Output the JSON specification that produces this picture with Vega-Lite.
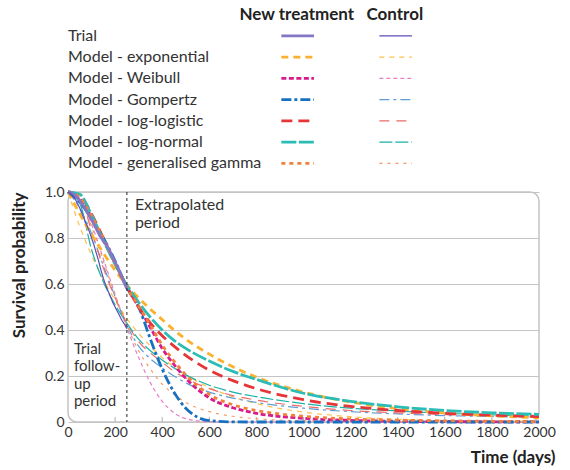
{
"$schema": "https://vega.github.io/schema/vega-lite/v6.json",
"padding": {"left": 9, "top": 4, "right": 5, "bottom": 0},
"background": "white",
"spacing": 10,
"config": {"font": "Lato", "view": {"stroke": null}},
"datasets": {
"legend": [
{"model":"Trial","group":"New treatment"},{"model":"Trial","group":"Control"},
{"model":"Model - exponential","group":"New treatment"},{"model":"Model - exponential","group":"Control"},
{"model":"Model - Weibull","group":"New treatment"},{"model":"Model - Weibull","group":"Control"},
{"model":"Model - Gompertz","group":"New treatment"},{"model":"Model - Gompertz","group":"Control"},
{"model":"Model - log-logistic","group":"New treatment"},{"model":"Model - log-logistic","group":"Control"},
{"model":"Model - log-normal","group":"New treatment"},{"model":"Model - log-normal","group":"Control"},
{"model":"Model - generalised gamma","group":"New treatment"},{"model":"Model - generalised gamma","group":"Control"}
],
"ticks": [{"t":200},{"t":400},{"t":600},{"t":800},{"t":1000},{"t":1200},{"t":1400},{"t":1600},{"t":1800}],
"curves": [
{"model":"Trial","group":"New treatment","t":0,"s":1},{"model":"Trial","group":"New treatment","t":8,"s":1},{"model":"Trial","group":"New treatment","t":15,"s":0.995},{"model":"Trial","group":"New treatment","t":25,"s":0.99},{"model":"Trial","group":"New treatment","t":35,"s":0.98},{"model":"Trial","group":"New treatment","t":45,"s":0.97},{"model":"Trial","group":"New treatment","t":55,"s":0.955},{"model":"Trial","group":"New treatment","t":65,"s":0.94},{"model":"Trial","group":"New treatment","t":75,"s":0.925},{"model":"Trial","group":"New treatment","t":85,"s":0.905},{"model":"Trial","group":"New treatment","t":95,"s":0.89},{"model":"Trial","group":"New treatment","t":105,"s":0.87},{"model":"Trial","group":"New treatment","t":115,"s":0.85},{"model":"Trial","group":"New treatment","t":125,"s":0.83},{"model":"Trial","group":"New treatment","t":135,"s":0.81},{"model":"Trial","group":"New treatment","t":145,"s":0.795},{"model":"Trial","group":"New treatment","t":155,"s":0.78},{"model":"Trial","group":"New treatment","t":165,"s":0.765},{"model":"Trial","group":"New treatment","t":175,"s":0.75},{"model":"Trial","group":"New treatment","t":185,"s":0.725},{"model":"Trial","group":"New treatment","t":195,"s":0.705},{"model":"Trial","group":"New treatment","t":205,"s":0.685},{"model":"Trial","group":"New treatment","t":215,"s":0.665},{"model":"Trial","group":"New treatment","t":225,"s":0.64},{"model":"Trial","group":"New treatment","t":235,"s":0.615},{"model":"Trial","group":"New treatment","t":243,"s":0.595},{"model":"Trial","group":"New treatment","t":250,"s":0.58},
{"model":"Trial","group":"Control","t":0,"s":1},{"model":"Trial","group":"Control","t":10,"s":0.995},{"model":"Trial","group":"Control","t":20,"s":0.985},{"model":"Trial","group":"Control","t":30,"s":0.97},{"model":"Trial","group":"Control","t":40,"s":0.95},{"model":"Trial","group":"Control","t":50,"s":0.93},{"model":"Trial","group":"Control","t":60,"s":0.905},{"model":"Trial","group":"Control","t":70,"s":0.88},{"model":"Trial","group":"Control","t":80,"s":0.855},{"model":"Trial","group":"Control","t":90,"s":0.83},{"model":"Trial","group":"Control","t":100,"s":0.8},{"model":"Trial","group":"Control","t":110,"s":0.77},{"model":"Trial","group":"Control","t":120,"s":0.735},{"model":"Trial","group":"Control","t":130,"s":0.7},{"model":"Trial","group":"Control","t":140,"s":0.66},{"model":"Trial","group":"Control","t":150,"s":0.625},{"model":"Trial","group":"Control","t":160,"s":0.595},{"model":"Trial","group":"Control","t":170,"s":0.57},{"model":"Trial","group":"Control","t":180,"s":0.545},{"model":"Trial","group":"Control","t":190,"s":0.52},{"model":"Trial","group":"Control","t":200,"s":0.5},{"model":"Trial","group":"Control","t":210,"s":0.48},{"model":"Trial","group":"Control","t":220,"s":0.46},{"model":"Trial","group":"Control","t":230,"s":0.44},{"model":"Trial","group":"Control","t":240,"s":0.425},{"model":"Trial","group":"Control","t":250,"s":0.405},

{"model":"Model - exponential","group":"New treatment","t":0,"s":1},{"model":"Model - exponential","group":"New treatment","t":50,"s":0.905},{"model":"Model - exponential","group":"New treatment","t":100,"s":0.815},{"model":"Model - exponential","group":"New treatment","t":150,"s":0.735},{"model":"Model - exponential","group":"New treatment","t":200,"s":0.66},{"model":"Model - exponential","group":"New treatment","t":250,"s":0.595},{"model":"Model - exponential","group":"New treatment","t":300,"s":0.54},{"model":"Model - exponential","group":"New treatment","t":350,"s":0.49},{"model":"Model - exponential","group":"New treatment","t":400,"s":0.445},{"model":"Model - exponential","group":"New treatment","t":450,"s":0.4},{"model":"Model - exponential","group":"New treatment","t":500,"s":0.36},{"model":"Model - exponential","group":"New treatment","t":600,"s":0.295},{"model":"Model - exponential","group":"New treatment","t":700,"s":0.24},{"model":"Model - exponential","group":"New treatment","t":800,"s":0.195},{"model":"Model - exponential","group":"New treatment","t":1000,"s":0.13},{"model":"Model - exponential","group":"New treatment","t":1200,"s":0.087},{"model":"Model - exponential","group":"New treatment","t":1400,"s":0.058},{"model":"Model - exponential","group":"New treatment","t":1600,"s":0.039},{"model":"Model - exponential","group":"New treatment","t":1800,"s":0.027},{"model":"Model - exponential","group":"New treatment","t":2000,"s":0.018},

{"model":"Model - Weibull","group":"New treatment","t":0,"s":1},{"model":"Model - Weibull","group":"New treatment","t":50,"s":0.97},{"model":"Model - Weibull","group":"New treatment","t":100,"s":0.89},{"model":"Model - Weibull","group":"New treatment","t":150,"s":0.79},{"model":"Model - Weibull","group":"New treatment","t":200,"s":0.69},{"model":"Model - Weibull","group":"New treatment","t":250,"s":0.585},{"model":"Model - Weibull","group":"New treatment","t":300,"s":0.5},{"model":"Model - Weibull","group":"New treatment","t":350,"s":0.41},{"model":"Model - Weibull","group":"New treatment","t":400,"s":0.32},{"model":"Model - Weibull","group":"New treatment","t":450,"s":0.25},{"model":"Model - Weibull","group":"New treatment","t":500,"s":0.19},{"model":"Model - Weibull","group":"New treatment","t":600,"s":0.105},{"model":"Model - Weibull","group":"New treatment","t":700,"s":0.062},{"model":"Model - Weibull","group":"New treatment","t":800,"s":0.038},{"model":"Model - Weibull","group":"New treatment","t":1000,"s":0.016},{"model":"Model - Weibull","group":"New treatment","t":1200,"s":0.007},{"model":"Model - Weibull","group":"New treatment","t":1400,"s":0.003},{"model":"Model - Weibull","group":"New treatment","t":1600,"s":0.0015},{"model":"Model - Weibull","group":"New treatment","t":1800,"s":0.0007},{"model":"Model - Weibull","group":"New treatment","t":2000,"s":0.0003},

{"model":"Model - Gompertz","group":"New treatment","t":0,"s":1},{"model":"Model - Gompertz","group":"New treatment","t":50,"s":0.955},{"model":"Model - Gompertz","group":"New treatment","t":100,"s":0.885},{"model":"Model - Gompertz","group":"New treatment","t":150,"s":0.8},{"model":"Model - Gompertz","group":"New treatment","t":200,"s":0.7},{"model":"Model - Gompertz","group":"New treatment","t":250,"s":0.585},{"model":"Model - Gompertz","group":"New treatment","t":300,"s":0.5},{"model":"Model - Gompertz","group":"New treatment","t":350,"s":0.36},{"model":"Model - Gompertz","group":"New treatment","t":400,"s":0.23},{"model":"Model - Gompertz","group":"New treatment","t":450,"s":0.13},{"model":"Model - Gompertz","group":"New treatment","t":500,"s":0.06},{"model":"Model - Gompertz","group":"New treatment","t":600,"s":0.006},{"model":"Model - Gompertz","group":"New treatment","t":700,"s":0.0005},{"model":"Model - Gompertz","group":"New treatment","t":800,"s":0},{"model":"Model - Gompertz","group":"New treatment","t":1000,"s":0},{"model":"Model - Gompertz","group":"New treatment","t":1200,"s":0},{"model":"Model - Gompertz","group":"New treatment","t":1400,"s":0},{"model":"Model - Gompertz","group":"New treatment","t":1600,"s":0},{"model":"Model - Gompertz","group":"New treatment","t":1800,"s":0},{"model":"Model - Gompertz","group":"New treatment","t":2000,"s":0},

{"model":"Model - log-logistic","group":"New treatment","t":0,"s":1},{"model":"Model - log-logistic","group":"New treatment","t":50,"s":0.985},{"model":"Model - log-logistic","group":"New treatment","t":100,"s":0.905},{"model":"Model - log-logistic","group":"New treatment","t":150,"s":0.8},{"model":"Model - log-logistic","group":"New treatment","t":200,"s":0.69},{"model":"Model - log-logistic","group":"New treatment","t":250,"s":0.59},{"model":"Model - log-logistic","group":"New treatment","t":300,"s":0.5},{"model":"Model - log-logistic","group":"New treatment","t":350,"s":0.43},{"model":"Model - log-logistic","group":"New treatment","t":400,"s":0.375},{"model":"Model - log-logistic","group":"New treatment","t":450,"s":0.33},{"model":"Model - log-logistic","group":"New treatment","t":500,"s":0.29},{"model":"Model - log-logistic","group":"New treatment","t":600,"s":0.225},{"model":"Model - log-logistic","group":"New treatment","t":700,"s":0.18},{"model":"Model - log-logistic","group":"New treatment","t":800,"s":0.145},{"model":"Model - log-logistic","group":"New treatment","t":1000,"s":0.097},{"model":"Model - log-logistic","group":"New treatment","t":1200,"s":0.068},{"model":"Model - log-logistic","group":"New treatment","t":1400,"s":0.05},{"model":"Model - log-logistic","group":"New treatment","t":1600,"s":0.038},{"model":"Model - log-logistic","group":"New treatment","t":1800,"s":0.03},{"model":"Model - log-logistic","group":"New treatment","t":2000,"s":0.024},

{"model":"Model - log-normal","group":"New treatment","t":0,"s":1},{"model":"Model - log-normal","group":"New treatment","t":50,"s":0.99},{"model":"Model - log-normal","group":"New treatment","t":100,"s":0.9},{"model":"Model - log-normal","group":"New treatment","t":150,"s":0.79},{"model":"Model - log-normal","group":"New treatment","t":200,"s":0.685},{"model":"Model - log-normal","group":"New treatment","t":250,"s":0.595},{"model":"Model - log-normal","group":"New treatment","t":300,"s":0.52},{"model":"Model - log-normal","group":"New treatment","t":350,"s":0.455},{"model":"Model - log-normal","group":"New treatment","t":400,"s":0.4},{"model":"Model - log-normal","group":"New treatment","t":450,"s":0.355},{"model":"Model - log-normal","group":"New treatment","t":500,"s":0.32},{"model":"Model - log-normal","group":"New treatment","t":600,"s":0.265},{"model":"Model - log-normal","group":"New treatment","t":700,"s":0.22},{"model":"Model - log-normal","group":"New treatment","t":800,"s":0.185},{"model":"Model - log-normal","group":"New treatment","t":1000,"s":0.125},{"model":"Model - log-normal","group":"New treatment","t":1200,"s":0.09},{"model":"Model - log-normal","group":"New treatment","t":1400,"s":0.066},{"model":"Model - log-normal","group":"New treatment","t":1600,"s":0.05},{"model":"Model - log-normal","group":"New treatment","t":1800,"s":0.04},{"model":"Model - log-normal","group":"New treatment","t":2000,"s":0.033},

{"model":"Model - generalised gamma","group":"New treatment","t":0,"s":1},{"model":"Model - generalised gamma","group":"New treatment","t":50,"s":0.975},{"model":"Model - generalised gamma","group":"New treatment","t":100,"s":0.895},{"model":"Model - generalised gamma","group":"New treatment","t":150,"s":0.795},{"model":"Model - generalised gamma","group":"New treatment","t":200,"s":0.69},{"model":"Model - generalised gamma","group":"New treatment","t":250,"s":0.585},{"model":"Model - generalised gamma","group":"New treatment","t":300,"s":0.505},{"model":"Model - generalised gamma","group":"New treatment","t":350,"s":0.42},{"model":"Model - generalised gamma","group":"New treatment","t":400,"s":0.335},{"model":"Model - generalised gamma","group":"New treatment","t":450,"s":0.265},{"model":"Model - generalised gamma","group":"New treatment","t":500,"s":0.205},{"model":"Model - generalised gamma","group":"New treatment","t":600,"s":0.12},{"model":"Model - generalised gamma","group":"New treatment","t":700,"s":0.075},{"model":"Model - generalised gamma","group":"New treatment","t":800,"s":0.05},{"model":"Model - generalised gamma","group":"New treatment","t":1000,"s":0.025},{"model":"Model - generalised gamma","group":"New treatment","t":1200,"s":0.013},{"model":"Model - generalised gamma","group":"New treatment","t":1400,"s":0.008},{"model":"Model - generalised gamma","group":"New treatment","t":1600,"s":0.005},{"model":"Model - generalised gamma","group":"New treatment","t":1800,"s":0.003},{"model":"Model - generalised gamma","group":"New treatment","t":2000,"s":0.002},

{"model":"Model - exponential","group":"Control","t":0,"s":1},{"model":"Model - exponential","group":"Control","t":50,"s":0.85},{"model":"Model - exponential","group":"Control","t":100,"s":0.725},{"model":"Model - exponential","group":"Control","t":150,"s":0.62},{"model":"Model - exponential","group":"Control","t":200,"s":0.53},{"model":"Model - exponential","group":"Control","t":250,"s":0.45},{"model":"Model - exponential","group":"Control","t":300,"s":0.385},{"model":"Model - exponential","group":"Control","t":350,"s":0.33},{"model":"Model - exponential","group":"Control","t":400,"s":0.28},{"model":"Model - exponential","group":"Control","t":450,"s":0.24},{"model":"Model - exponential","group":"Control","t":500,"s":0.205},{"model":"Model - exponential","group":"Control","t":600,"s":0.15},{"model":"Model - exponential","group":"Control","t":700,"s":0.11},{"model":"Model - exponential","group":"Control","t":800,"s":0.08},{"model":"Model - exponential","group":"Control","t":1000,"s":0.043},{"model":"Model - exponential","group":"Control","t":1200,"s":0.023},{"model":"Model - exponential","group":"Control","t":1400,"s":0.012},{"model":"Model - exponential","group":"Control","t":1600,"s":0.0065},{"model":"Model - exponential","group":"Control","t":1800,"s":0.0035},{"model":"Model - exponential","group":"Control","t":2000,"s":0.002},

{"model":"Model - Weibull","group":"Control","t":0,"s":1},{"model":"Model - Weibull","group":"Control","t":50,"s":0.97},{"model":"Model - Weibull","group":"Control","t":100,"s":0.86},{"model":"Model - Weibull","group":"Control","t":150,"s":0.71},{"model":"Model - Weibull","group":"Control","t":200,"s":0.555},{"model":"Model - Weibull","group":"Control","t":250,"s":0.41},{"model":"Model - Weibull","group":"Control","t":300,"s":0.28},{"model":"Model - Weibull","group":"Control","t":350,"s":0.17},{"model":"Model - Weibull","group":"Control","t":400,"s":0.09},{"model":"Model - Weibull","group":"Control","t":450,"s":0.04},{"model":"Model - Weibull","group":"Control","t":500,"s":0.015},{"model":"Model - Weibull","group":"Control","t":600,"s":0.001},{"model":"Model - Weibull","group":"Control","t":700,"s":0},{"model":"Model - Weibull","group":"Control","t":800,"s":0},{"model":"Model - Weibull","group":"Control","t":1000,"s":0},{"model":"Model - Weibull","group":"Control","t":1200,"s":0},{"model":"Model - Weibull","group":"Control","t":1400,"s":0},{"model":"Model - Weibull","group":"Control","t":1600,"s":0},{"model":"Model - Weibull","group":"Control","t":1800,"s":0},{"model":"Model - Weibull","group":"Control","t":2000,"s":0},

{"model":"Model - Gompertz","group":"Control","t":0,"s":1},{"model":"Model - Gompertz","group":"Control","t":50,"s":0.93},{"model":"Model - Gompertz","group":"Control","t":100,"s":0.82},{"model":"Model - Gompertz","group":"Control","t":150,"s":0.68},{"model":"Model - Gompertz","group":"Control","t":200,"s":0.545},{"model":"Model - Gompertz","group":"Control","t":250,"s":0.42},{"model":"Model - Gompertz","group":"Control","t":300,"s":0.33},{"model":"Model - Gompertz","group":"Control","t":350,"s":0.275},{"model":"Model - Gompertz","group":"Control","t":400,"s":0.235},{"model":"Model - Gompertz","group":"Control","t":450,"s":0.2},{"model":"Model - Gompertz","group":"Control","t":500,"s":0.17},{"model":"Model - Gompertz","group":"Control","t":600,"s":0.13},{"model":"Model - Gompertz","group":"Control","t":700,"s":0.104},{"model":"Model - Gompertz","group":"Control","t":800,"s":0.085},{"model":"Model - Gompertz","group":"Control","t":1000,"s":0.06},{"model":"Model - Gompertz","group":"Control","t":1200,"s":0.045},{"model":"Model - Gompertz","group":"Control","t":1400,"s":0.035},{"model":"Model - Gompertz","group":"Control","t":1600,"s":0.028},{"model":"Model - Gompertz","group":"Control","t":1800,"s":0.024},{"model":"Model - Gompertz","group":"Control","t":2000,"s":0.02},

{"model":"Model - log-logistic","group":"Control","t":0,"s":1},{"model":"Model - log-logistic","group":"Control","t":50,"s":0.98},{"model":"Model - log-logistic","group":"Control","t":100,"s":0.83},{"model":"Model - log-logistic","group":"Control","t":150,"s":0.67},{"model":"Model - log-logistic","group":"Control","t":200,"s":0.54},{"model":"Model - log-logistic","group":"Control","t":250,"s":0.43},{"model":"Model - log-logistic","group":"Control","t":300,"s":0.35},{"model":"Model - log-logistic","group":"Control","t":350,"s":0.3},{"model":"Model - log-logistic","group":"Control","t":400,"s":0.26},{"model":"Model - log-logistic","group":"Control","t":450,"s":0.22},{"model":"Model - log-logistic","group":"Control","t":500,"s":0.19},{"model":"Model - log-logistic","group":"Control","t":600,"s":0.145},{"model":"Model - log-logistic","group":"Control","t":700,"s":0.115},{"model":"Model - log-logistic","group":"Control","t":800,"s":0.095},{"model":"Model - log-logistic","group":"Control","t":1000,"s":0.068},{"model":"Model - log-logistic","group":"Control","t":1200,"s":0.05},{"model":"Model - log-logistic","group":"Control","t":1400,"s":0.04},{"model":"Model - log-logistic","group":"Control","t":1600,"s":0.032},{"model":"Model - log-logistic","group":"Control","t":1800,"s":0.026},{"model":"Model - log-logistic","group":"Control","t":2000,"s":0.022},

{"model":"Model - log-normal","group":"Control","t":0,"s":1},{"model":"Model - log-normal","group":"Control","t":50,"s":0.95},{"model":"Model - log-normal","group":"Control","t":100,"s":0.75},{"model":"Model - log-normal","group":"Control","t":150,"s":0.61},{"model":"Model - log-normal","group":"Control","t":200,"s":0.51},{"model":"Model - log-normal","group":"Control","t":250,"s":0.43},{"model":"Model - log-normal","group":"Control","t":300,"s":0.36},{"model":"Model - log-normal","group":"Control","t":350,"s":0.31},{"model":"Model - log-normal","group":"Control","t":400,"s":0.27},{"model":"Model - log-normal","group":"Control","t":450,"s":0.235},{"model":"Model - log-normal","group":"Control","t":500,"s":0.205},{"model":"Model - log-normal","group":"Control","t":600,"s":0.16},{"model":"Model - log-normal","group":"Control","t":700,"s":0.13},{"model":"Model - log-normal","group":"Control","t":800,"s":0.11},{"model":"Model - log-normal","group":"Control","t":1000,"s":0.08},{"model":"Model - log-normal","group":"Control","t":1200,"s":0.06},{"model":"Model - log-normal","group":"Control","t":1400,"s":0.048},{"model":"Model - log-normal","group":"Control","t":1600,"s":0.038},{"model":"Model - log-normal","group":"Control","t":1800,"s":0.031},{"model":"Model - log-normal","group":"Control","t":2000,"s":0.026},

{"model":"Model - generalised gamma","group":"Control","t":0,"s":1},{"model":"Model - generalised gamma","group":"Control","t":50,"s":0.97},{"model":"Model - generalised gamma","group":"Control","t":100,"s":0.85},{"model":"Model - generalised gamma","group":"Control","t":150,"s":0.7},{"model":"Model - generalised gamma","group":"Control","t":200,"s":0.55},{"model":"Model - generalised gamma","group":"Control","t":250,"s":0.42},{"model":"Model - generalised gamma","group":"Control","t":300,"s":0.31},{"model":"Model - generalised gamma","group":"Control","t":350,"s":0.23},{"model":"Model - generalised gamma","group":"Control","t":400,"s":0.165},{"model":"Model - generalised gamma","group":"Control","t":450,"s":0.12},{"model":"Model - generalised gamma","group":"Control","t":500,"s":0.085},{"model":"Model - generalised gamma","group":"Control","t":600,"s":0.045},{"model":"Model - generalised gamma","group":"Control","t":700,"s":0.025},{"model":"Model - generalised gamma","group":"Control","t":800,"s":0.014},{"model":"Model - generalised gamma","group":"Control","t":1000,"s":0.005},{"model":"Model - generalised gamma","group":"Control","t":1200,"s":0.002},{"model":"Model - generalised gamma","group":"Control","t":1400,"s":0.001},{"model":"Model - generalised gamma","group":"Control","t":1600,"s":0},{"model":"Model - generalised gamma","group":"Control","t":1800,"s":0},{"model":"Model - generalised gamma","group":"Control","t":2000,"s":0}
]
},
"vconcat": [
{
"width": 392, "height": 170,
"view": {"stroke": null},
"layer": [
{
"data": {"name": "legend"},
"transform": [{"calculate": "datum.model + '|' + datum.group", "as": "key"}],
"mark": {"type": "rule"},
"encoding": {
"x": {"field": "group", "type": "nominal", "bandPosition": 0.177, "scale": {"type": "band", "domain": ["label", "gap", "New treatment", "Control"], "paddingInner": 0, "paddingOuter": 0}, "axis": null},
"x2": {"field": "group", "bandPosition": 0.51},
"y": {"field": "model", "type": "nominal", "scale": {"type": "point", "domain": ["header", "Trial", "Model - exponential", "Model - Weibull", "Model - Gompertz", "Model - log-logistic", "Model - log-normal", "Model - generalised gamma"], "padding": 0.5}, "axis": null},
"color": {"field": "key", "type": "nominal", "legend": null, "scale": {"domain": ["Trial|New treatment","Trial|Control","Model - exponential|New treatment","Model - exponential|Control","Model - Weibull|New treatment","Model - Weibull|Control","Model - Gompertz|New treatment","Model - Gompertz|Control","Model - log-logistic|New treatment","Model - log-logistic|Control","Model - log-normal|New treatment","Model - log-normal|Control","Model - generalised gamma|New treatment","Model - generalised gamma|Control"], "range": ["#8477c4","#5b4fb5","#fbb12f","#fdc04c","#d81b8c","#e580c3","#1770c0","#5f9dd6","#e63538","#ec6a6a","#2bbdb5","#1ab0a8","#f27f3a","#f59c66"]}},
"strokeDash": {"field": "key", "type": "nominal", "legend": null, "scale": {"domain": ["Trial|New treatment","Trial|Control","Model - exponential|New treatment","Model - exponential|Control","Model - Weibull|New treatment","Model - Weibull|Control","Model - Gompertz|New treatment","Model - Gompertz|Control","Model - log-logistic|New treatment","Model - log-logistic|Control","Model - log-normal|New treatment","Model - log-normal|Control","Model - generalised gamma|New treatment","Model - generalised gamma|Control"], "range": [[1,0],[1,0],[7,5],[5,5],[5,2.5],[4,3],[10,3,3,3],[10,4,3,4],[11,6],[10,7],[15,2.5],[13,3],[4,4],[3,5]]}},
"strokeWidth": {"field": "group", "type": "nominal", "legend": null, "scale": {"domain": ["New treatment", "Control"], "range": [2.8, 1.2]}}
}
},
{
"data": {"name": "legend"},
"transform": [{"filter": "datum.group == 'New treatment'"}],
"mark": {"type": "text", "align": "left", "baseline": "middle", "fontSize": 16, "color": "#333"},
"encoding": {
"x": {"datum": "label", "type": "nominal", "bandPosition": 0},
"y": {"field": "model", "type": "nominal"},
"text": {"field": "model"}
}
},
{
"data": {"values": [{"group": "New treatment"}, {"group": "Control"}]},
"mark": {"type": "text", "align": "center", "baseline": "middle", "fontSize": 17, "fontWeight": "bold", "color": "#222"},
"encoding": {
"x": {"field": "group", "type": "nominal", "bandPosition": 0.335},
"y": {"datum": "header", "type": "nominal"},
"text": {"field": "group"}
}
}
]
},
{
"width": 471, "height": 230,
"view": {"stroke": "#c4c4c4", "strokeWidth": 1.5, "cornerRadius": 9},
"layer": [
{
"data": {"name": "ticks"},
"mark": {"type": "rule", "color": "#b0b0b0", "strokeWidth": 1},
"encoding": {
"x": {"field": "t", "type": "quantitative"},
"y": {"datum": 0, "type": "quantitative"},
"y2": {"datum": 0.022}
}
},
{
"data": {"name": "curves"},
"transform": [{"calculate": "datum.model + '|' + datum.group", "as": "key"}],
"encoding": {
"x": {"field": "t", "type": "quantitative", "title": "Time (days)", "scale": {"domain": [0, 2000], "nice": false}, "axis": {"values": [0,200,400,600,800,1000,1200,1400,1600,1800,2000], "format": "d", "labelOverlap": false, "labelFlush": false, "grid": false, "domain": false, "ticks": false, "labelFontSize": 14, "labelColor": "#333", "labelPadding": 3, "titleFontSize": 17, "titleFontWeight": "bold", "titleColor": "#222", "titleAnchor": "end", "titleAlign": "right", "titleX": 487, "titlePadding": 10}},
"y": {"field": "s", "type": "quantitative", "title": "Survival probability", "scale": {"domain": [0, 1], "nice": false}, "axis": {"values": [0,0.2,0.4,0.6,0.8,1], "labelExpr": "datum.value == 0 ? '0' : format(datum.value, '.1f')", "grid": true, "gridColor": "#c4c4c4", "gridWidth": 1.2, "domain": false, "ticks": false, "labelFontSize": 14, "labelColor": "#333", "labelPadding": 4, "titleFontSize": 17, "titleFontWeight": "bold", "titleColor": "#222", "titleAnchor": "end", "titlePadding": 16}},
"color": {"field": "key", "type": "nominal", "legend": null, "scale": {"domain": ["Trial|New treatment","Trial|Control","Model - exponential|New treatment","Model - exponential|Control","Model - Weibull|New treatment","Model - Weibull|Control","Model - Gompertz|New treatment","Model - Gompertz|Control","Model - log-logistic|New treatment","Model - log-logistic|Control","Model - log-normal|New treatment","Model - log-normal|Control","Model - generalised gamma|New treatment","Model - generalised gamma|Control"], "range": ["#8477c4","#5b4fb5","#fbb12f","#fdc04c","#d81b8c","#e580c3","#1770c0","#5f9dd6","#e63538","#ec6a6a","#2bbdb5","#1ab0a8","#f27f3a","#f59c66"]}},
"strokeDash": {"field": "key", "type": "nominal", "legend": null, "scale": {"domain": ["Trial|New treatment","Trial|Control","Model - exponential|New treatment","Model - exponential|Control","Model - Weibull|New treatment","Model - Weibull|Control","Model - Gompertz|New treatment","Model - Gompertz|Control","Model - log-logistic|New treatment","Model - log-logistic|Control","Model - log-normal|New treatment","Model - log-normal|Control","Model - generalised gamma|New treatment","Model - generalised gamma|Control"], "range": [[1,0],[1,0],[7,5],[5,5],[5,2.5],[4,3],[10,3,3,3],[10,4,3,4],[11,6],[10,7],[15,2.5],[13,3],[4,4],[3,5]]}},
"strokeWidth": {"field": "group", "type": "nominal", "legend": null, "scale": {"domain": ["New treatment", "Control"], "range": [2.8, 1.2]}}
},
"layer": [
{"transform": [{"filter": "datum.model != 'Trial' && datum.group == 'Control'"}], "mark": {"type": "line", "interpolate": "monotone"}},
{"transform": [{"filter": "datum.model != 'Trial' && datum.group == 'New treatment'"}], "mark": {"type": "line", "interpolate": "monotone"}},
{"transform": [{"filter": "datum.model == 'Trial'"}], "mark": {"type": "line"}}
]
},
{
"data": {"values": [{}]},
"mark": {"type": "rule", "strokeDash": [3, 3], "color": "#222", "strokeWidth": 1},
"encoding": {"x": {"datum": 250, "type": "quantitative"}}
},
{
"data": {"values": [{}]},
"mark": {"type": "text", "align": "left", "baseline": "top", "fontSize": 16, "lineHeight": 18, "color": "#333", "text": ["Extrapolated", "period"]},
"encoding": {"x": {"datum": 284, "type": "quantitative"}, "y": {"datum": 0.978, "type": "quantitative"}}
},
{
"data": {"values": [{}]},
"mark": {"type": "text", "align": "left", "baseline": "top", "fontSize": 15, "lineHeight": 17.5, "color": "#333", "text": ["Trial", "follow-", "up", "period"]},
"encoding": {"x": {"datum": 25, "type": "quantitative"}, "y": {"datum": 0.35, "type": "quantitative"}}
}
]
}
]
}
